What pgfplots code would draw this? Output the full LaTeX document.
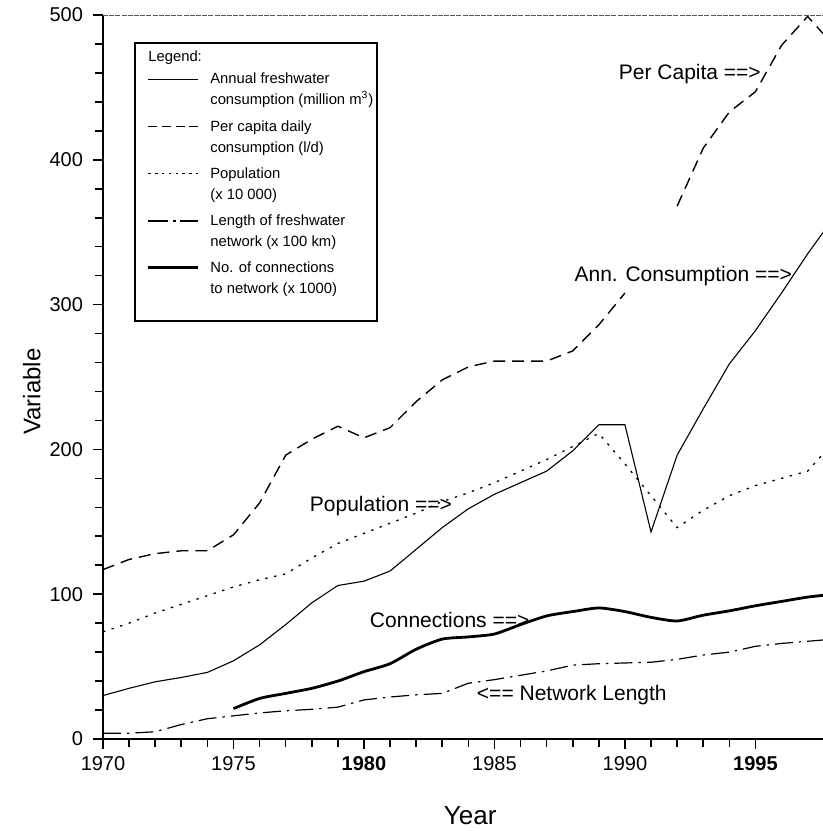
\documentclass[border=0pt]{standalone}
\usepackage{pgfplots}
\usepackage{pgfplotstable}
\pgfplotsset{compat=1.18}
\usepackage{fontspec}
\setmainfont{Liberation Sans}

% yearly water-supply indicators
\pgfplotstableread{
year cons percap pop netlen conn
1970 30   117 74  4    nan
1971 35   124 80  4    nan
1972 39.5 128 87  5    nan
1973 42.5 130 93  10   nan
1974 46   130 99  14   nan
1975 54   141 105 16   21
1976 65   163 110 18   28
1977 79   196 114 19.5 31.5
1978 94   207 125 20.5 35
1979 106  216 135 22   40
1980 109  208 142 27   46.5
1981 116  215 149 29   52
1982 131  233 156 30.5 62
1983 146  248 164 31.5 69
1984 159  257 170 38.5 70.5
1985 169  261 177 41   72.5
1986 177  261 185 44   79
1987 185  261 193 47   85
1988 199  268 202 51   88
1989 217  286 211 52   90.5
1990 217  308 190 52.5 88
1991 143  nan 168 53   84
1992 196  368 146 55   81.5
1993 228  408 158 58   85.5
1994 259  433 168 60   88.5
1995 282  447 175 64   92
1996 308  479 180 66   95
1997 335  499 185 67.5 98
1998 360  479 205 69   100
}\datatable

\newcommand\legfont{\fontsize{7.4}{10.5}\selectfont}
\newcommand\seg[2]{\rule[1.9pt]{#1}{#2}}

\begin{document}
\begin{tikzpicture}
\begin{axis}[
  scale only axis, width=360pt, height=362pt,
  xmin=1970, xmax=1997.59, ymin=0, ymax=500,
  axis lines*=left,
  axis line style={line width=1pt},
  xtick={1970,1975,...,1995},
  xticklabels={1970,1975,\textbf{1980},1985,1990,\textbf{1995}},
  minor x tick num=4,
  ytick={0,100,...,500},
  yticklabels={0,100,200,300,400,500},
  minor y tick num=4,
  tick align=outside,
  major tick length=5pt, minor tick length=4pt,
  every tick/.style={line width=0.8pt, black},
  ticklabel style={font=\fontsize{10}{12}\selectfont},
  yticklabel style={xshift=-1.5pt},
  xlabel={Year}, ylabel={Variable},
  xlabel style={font=\fontsize{13}{15}\selectfont, at={(rel axis cs:0.51,0)}, anchor=center, yshift=-38.5pt},
  ylabel style={font=\fontsize{12}{14}\selectfont, at={(rel axis cs:0,0.48)}, anchor=center, yshift=35.6pt},
  unbounded coords=jump,
  clip=true,
]
% frame line along the top
\draw[line width=0.4pt, black!65, dash pattern=on 2.5pt off 0.6pt] (rel axis cs:0,1) -- (rel axis cs:1,1);

\addplot[black, line width=0.55pt] table[x=year, y=cons] {\datatable};
\addplot[black, line width=0.7pt, dash pattern=on 6pt off 3.5pt] table[x=year, y=percap] {\datatable};
\addplot[black, line width=0.65pt, dash pattern=on 1.2pt off 3.3pt] table[x=year, y=pop] {\datatable};
\addplot[black, line width=0.6pt, dash pattern=on 9pt off 3pt on 1.2pt off 3pt] table[x=year, y=netlen] {\datatable};
\addplot[black, line width=1.4pt, smooth, tension=0.4] table[x=year, y=conn] {\datatable};

\node[anchor=west, font=\fontsize{10.5}{13}\selectfont] at (axis cs:1989.5,459) {Per Capita ==>};
\node[anchor=west, font=\fontsize{10.5}{13}\selectfont] at (axis cs:1987.8,320) {Ann. Consumption ==>};
\node[anchor=west, font=\fontsize{10.5}{13}\selectfont] at (axis cs:1977.66,161) {Population ==>};
\node[anchor=west, font=\fontsize{10.5}{13}\selectfont] at (axis cs:1979.96,82) {Connections ==>};
\node[anchor=west, font=\fontsize{10.5}{13}\selectfont] at (axis cs:1984.06,30.5) {<== Network Length};

\coordinate (legNW) at (rel axis cs:0.0444,0.9617);
\end{axis}

% legend box
\draw[line width=0.8pt] (legNW) rectangle ++(121pt,-139pt);
\node[anchor=north west, inner sep=0pt, font=\legfont] at ([xshift=6.5pt,yshift=-2pt]legNW) {%
\begin{tabular}{@{}l@{\hspace{6pt}}l@{}}
\multicolumn{2}{@{}l}{Legend:}\\[0.5pt]
\seg{25pt}{0.5pt} & Annual freshwater\\
 & consumption (million m\textsuperscript{3})\\[2.6pt]
\seg{4.5pt}{0.6pt}\hspace{2.3pt}\seg{4.5pt}{0.6pt}\hspace{2.3pt}\seg{4.5pt}{0.6pt}\hspace{2.3pt}\seg{4.5pt}{0.6pt} & Per capita daily\\
 & consumption (l/d)\\[2.6pt]
\seg{1.2pt}{0.5pt}\hspace{2.2pt}\seg{1.2pt}{0.5pt}\hspace{2.2pt}\seg{1.2pt}{0.5pt}\hspace{2.2pt}\seg{1.2pt}{0.5pt}\hspace{2.2pt}\seg{1.2pt}{0.5pt}\hspace{2.2pt}\seg{1.2pt}{0.5pt}\hspace{2.2pt}\seg{1.2pt}{0.5pt}\hspace{2.2pt}\seg{1.2pt}{0.5pt} & Population\\
 & (x 10 000)\\[2.6pt]
\seg{10pt}{0.6pt}\hspace{2.5pt}\seg{1.3pt}{0.6pt}\hspace{2pt}\seg{9.2pt}{0.6pt} & Length of freshwater\\
 & network (x 100 km)\\[2.6pt]
\seg{25pt}{1.2pt} & No. of connections\\
 & to network (x 1000)
\end{tabular}};

\pgfresetboundingbox
\path ([xshift=-51.5pt,yshift=-46pt]current axis.south west) rectangle ([yshift=7.5pt]current axis.north east);
\end{tikzpicture}
\end{document}
